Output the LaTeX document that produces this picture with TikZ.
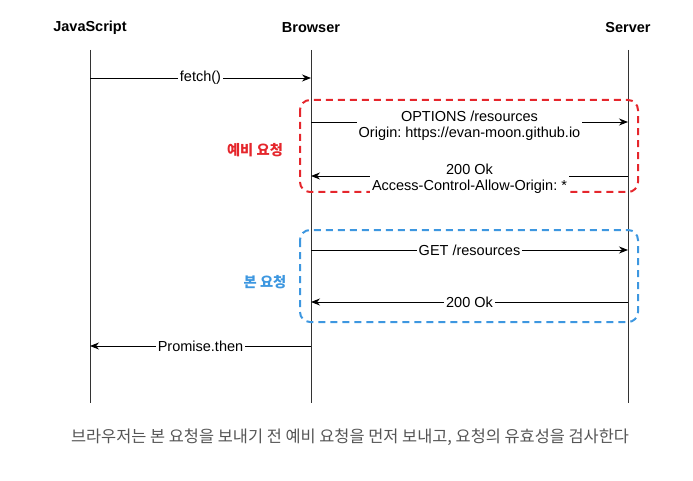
\documentclass[tikz,border=0pt]{standalone}
\usepackage{fontspec}
\setmainfont{Liberation Sans}
\newfontfamily\kofont{Noto Sans CJK KR}
\usepackage{tikz}
\usetikzlibrary{arrows.meta,positioning,calc}
\frenchspacing
\definecolor{LineGray}{HTML}{333333}
\definecolor{PreRed}{HTML}{E5262C}
\definecolor{MainBlue}{HTML}{3D97E0}
\definecolor{CaptionGray}{HTML}{555555}

\begin{document}
\begin{tikzpicture}[
    x=1pt,y=-1pt,
    every node/.style={font=\fontsize{14.5}{16.5}\selectfont},
    head/.style={font=\fontsize{14.5}{15.5}\selectfont\bfseries,inner sep=0pt},
    life/.style={LineGray,line width=1pt},
    msg/.style={-{Stealth[length=9pt,width=7pt]},black,line width=0.9pt},
    lbl/.style={fill=white,align=center,inner sep=2pt},
    phase/.style={dashed,dash pattern=on 7pt off 5pt,line width=2pt,rounded corners=10pt},
    tag/.style={font=\kofont\fontsize{14.3}{15}\selectfont\bfseries}
  ]
    \useasboundingbox (0,0) rectangle (693,481);
    % participants
    \node[head] (js) at (90,28) {JavaScript};
    \node[head] (browser) at (311,28) {Browser};
    \node[head] (server) at (628,28) {Server};
    \coordinate (jsEnd) at (90,403);
    \coordinate (brEnd) at (311,403);
    \coordinate (svEnd) at (628,403);
    \draw[life] (js.south |- 0,50) -- (jsEnd);
    \draw[life] (browser.south |- 0,50) -- (brEnd);
    \draw[life] (server.south |- 0,50) -- (svEnd);

    % phase boxes
    \draw[phase,PreRed] (300,100) rectangle (638,192);
    \draw[phase,MainBlue] (300,230) rectangle (638,322);
    \node[tag,PreRed] (preTag) at (255,150) {예비 요청};
    \node[tag,MainBlue] (mainTag) at (265,282) {본 요청};

    % message points
    \coordinate (js1) at (90,78);   \coordinate (br1) at (311,78);
    \coordinate (br2) at (311,122); \coordinate (sv2) at (628,122);
    \coordinate (sv3) at (628,176); \coordinate (br3) at (311,176);
    \coordinate (br4) at (311,250); \coordinate (sv4) at (628,250);
    \coordinate (sv5) at (628,302); \coordinate (br5) at (311,302);
    \coordinate (br6) at (311,346); \coordinate (js6) at (90,346);

    % messages
    \draw[msg] (js1) -- node[lbl] (fetchLbl) {fetch()} (br1);
    \draw[msg] (br2) -- node[lbl,yshift=-4pt] (optLbl) {OPTIONS /resources\\Origin: https://evan-moon.github.io} (sv2);
    \draw[msg] (sv3) -- node[lbl,yshift=-3pt] (preOkLbl) {200 Ok\\Access-Control-Allow-Origin: *} (br3);
    \draw[msg] (br4) -- node[lbl] (getLbl) {GET /resources} (sv4);
    \draw[msg] (sv5) -- node[lbl] (okLbl) {200 Ok} (br5);
    \draw[msg] (br6) -- node[lbl] (thenLbl) {Promise.then} (js6);

    % caption
    \node[font=\kofont\fontsize{16.4}{18}\selectfont,CaptionGray] (caption) at (350,437)
      {브라우저는 본 요청을 보내기 전 예비 요청을 먼저 보내고, 요청의 유효성을 검사한다};
  \end{tikzpicture}
\end{document}
